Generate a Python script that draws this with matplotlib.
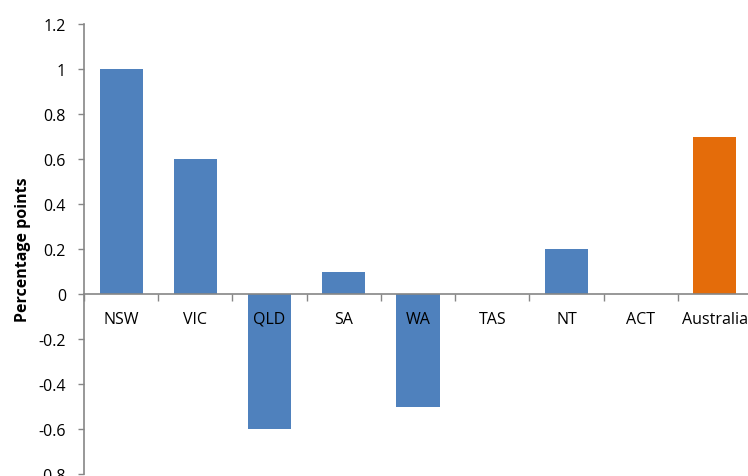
import matplotlib.pyplot as plt
import numpy as np

# state changes, percentage points
states = ['NSW', 'VIC', 'QLD', 'SA', 'WA', 'TAS', 'NT', 'ACT', 'Australia']
values = [1.0, 0.6, -0.6, 0.1, -0.5, 0.0, 0.2, 0.0, 0.7]
colours = ['#4F81BD'] * 8 + ['#E46C0A']
yticks = [-0.8, -0.6, -0.4, -0.2, 0, 0.2, 0.4, 0.6, 0.8, 1, 1.2]
ytick_labels = ['-0.8', '-0.6', '-0.4', '-0.2', '0', '0.2', '0.4', '0.6', '0.8', '1', '1.2']

plt.rcParams['font.family'] = ['Open Sans', 'DejaVu Sans']
axis_grey = '#868686'

fig = plt.figure(figsize=(7.48, 4.77), dpi=100)
ax = fig.add_axes([84 / 748, 2 / 477, 668 / 748, 450 / 477])

x = np.arange(len(states))
ax.bar(x, values, width=0.58, color=colours, zorder=1)

ax.set_xlim(-0.5, len(states) - 0.5)
ax.set_ylim(-0.8, 1.2)

# y axis
ax.set_yticks(yticks)
ax.set_yticklabels(ytick_labels)
ax.tick_params(axis='y', direction='out', length=4, width=1, color=axis_grey,
               pad=9, labelsize=11.5, labelcolor='black')
ax.set_ylabel('Percentage points', fontsize=11.5, fontweight='bold', labelpad=5)

# category axis sits on the zero line
ax.spines['bottom'].set_position(('data', 0))
ax.set_xticks(x)
ax.set_xticklabels(states)
ax.set_xticks(np.arange(len(states) + 1) - 0.5, minor=True)
ax.tick_params(axis='x', which='major', length=0, pad=12, labelsize=11.5)
ax.tick_params(axis='x', which='minor', direction='out', length=5, width=1,
               color=axis_grey)

for side in ['top', 'right']:
    ax.spines[side].set_visible(False)
for side in ['left', 'bottom']:
    ax.spines[side].set_color(axis_grey)
    ax.spines[side].set_linewidth(1.2)

fig.savefig('out.png', dpi=100)
